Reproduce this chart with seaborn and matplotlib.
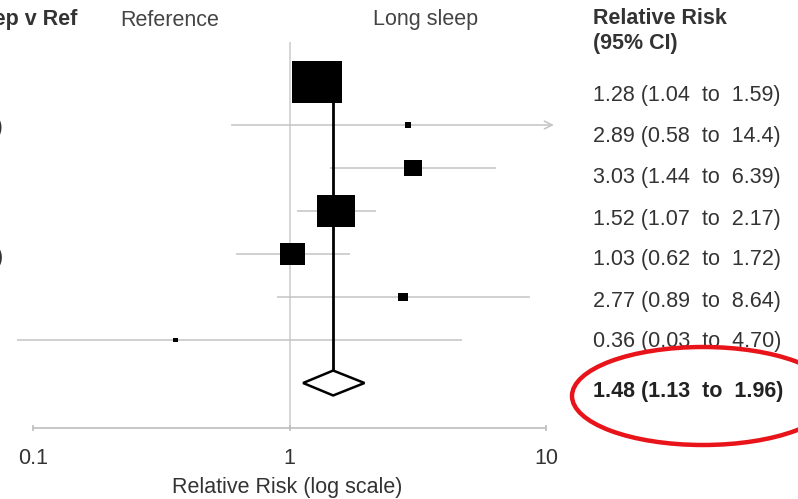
import numpy as np
import matplotlib
matplotlib.use("Agg")
import matplotlib.pyplot as plt
import seaborn as sns
import pandas as pd
from matplotlib.patches import Ellipse, Polygon
from matplotlib.path import Path

# ---- data ----
rr = [1.28, 2.89, 3.03, 1.52, 1.03, 2.77, 0.36]
lo = [1.04, 0.58, 1.44, 1.07, 0.62, 0.89, 0.03]
hi = [1.59, 14.4, 6.39, 2.17, 1.72, 8.64, 4.70]
weights = [50.3, 0.7, 6.7, 27.7, 12.3, 1.8, 0.5]
row_labels = ["", "(men)", "", "", "(women)", "", ""]
pooled = (1.48, 1.13, 1.96)
ticks = [0.1, 1, 10]
tick_labels = ["0.1", "1", "10"]

sns.set_theme(style="white")
plt.rcParams['font.family'] = ['Liberation Sans', 'DejaVu Sans']

W, H = 798, 499
fig = plt.figure(figsize=(W / 100, H / 100), dpi=100)
ax = fig.add_axes([0, 0, 1, 1])
ax.set_xscale("log")
# map: 0.1 -> px 33, 10 -> px 546
ppd = (546 - 33) / 2.0
ax.set_xlim(10 ** (-1 - 33 / ppd), 10 ** (-1 + (W - 33) / ppd))
# rows: row r at px 82 + 43 r
ax.set_ylim((H - 82) / 43, -82 / 43)
ax.axis("off")

def px(x, y):
    return x / W, 1 - y / H

n = len(rr)
rows = np.arange(n)
xmax_plot = 11.0
xmin_plot = 10 ** (-1 - 16 / ppd)
grey = "#c4c4c4"

# reference line at 1
ax.vlines(1, -0.93, (428 - 82) / 43, color="#cfcfcf", lw=1.2, zorder=1)

# CIs
for i in range(n):
    a, b = max(lo[i], xmin_plot), hi[i]
    if b > xmax_plot:
        ax.annotate("", xy=(xmax_plot, i), xytext=(a, i),
                    arrowprops=dict(arrowstyle="->", color=grey, lw=1.1,
                                    mutation_scale=14), zorder=2)
    else:
        ax.hlines(i, a, b, color=grey, lw=1.1, zorder=2)

# pooled vertical line
dh = 0.29
ax.vlines(pooled[0], 0, n - 0.5 + 0.5 - dh + 0.0, color="black", lw=2.0, zorder=3)

# boxes
box = Path([(-1.2, -1), (1.2, -1), (1.2, 1), (-1.2, 1), (-1.2, -1)],
           [Path.MOVETO, Path.LINETO, Path.LINETO, Path.LINETO, Path.CLOSEPOLY])
df = pd.DataFrame({"rr": rr, "row": rows, "w": weights})
k = 26.8
sns.scatterplot(data=df, x="rr", y="row", size="w",
                sizes=(min(weights) * k, max(weights) * k),
                marker=box, color="black", edgecolor="none", linewidth=0,
                legend=False, ax=ax, zorder=4)

# pooled diamond
diam = Polygon([(pooled[1], n), (pooled[0], n - dh), (pooled[2], n), (pooled[0], n + dh)],
               closed=True, facecolor="white", edgecolor="black", lw=1.8, zorder=5)
ax.add_patch(diam)

# x axis
yax = (428 - 82) / 43
ax.hlines(yax, ticks[0], ticks[-1], color="#bdbdbd", lw=1.2)
for t, lab in zip(ticks, tick_labels):
    ax.vlines(t, yax - 0.08, yax + 0.08, color="#bdbdbd", lw=1.2)
    ax.text(t, (458 - 82) / 43, lab, ha="center", va="center", fontsize=15.5, color="#333333")
fig.text(*px(287, 487), "Relative Risk (log scale)", ha="center", va="center",
         fontsize=15.5, color="#333333")

# headers
fig.text(*px(77, 20), "Long sleep v Ref", ha="right", va="center", fontsize=15.5,
         fontweight="bold", color="#333333")
fig.text(*px(170, 20), "Reference", ha="center", va="center", fontsize=15.5, color="#444444")
fig.text(*px(426, 20), "Long sleep", ha="center", va="center", fontsize=15.5, color="#444444")
fig.text(*px(593, 18), "Relative Risk", ha="left", va="center", fontsize=15.5,
         fontweight="bold", color="#333333")
fig.text(*px(593, 43), "(95% CI)", ha="left", va="center", fontsize=15.5,
         fontweight="bold", color="#333333")

# row labels (clipped at left edge)
for i, lab in enumerate(row_labels):
    if lab:
        fig.text(*px(3.5, 82 + 43 * i + 3), lab, ha="right", va="center",
                 fontsize=15.5, color="#333333")

# values
for i in range(n):
    s = f"{rr[i]:.2f} ({lo[i]:.2f}  to  {hi[i]:.3g})" if hi[i] >= 10 else \
        f"{rr[i]:.2f} ({lo[i]:.2f}  to  {hi[i]:.2f})"
    fig.text(*px(593, 96 + 41 * i), s, ha="left", va="center", fontsize=15.5, color="#333333")
fig.text(*px(593, 392), f"{pooled[0]:.2f} ({pooled[1]:.2f}  to  {pooled[2]:.2f})",
         ha="left", va="center", fontsize=15.5, fontweight="bold", color="#222222")

# red ellipse highlight
ell = Ellipse(px(703, 396), 262 / W, 98 / H, transform=fig.transFigure,
              fill=False, edgecolor="#e8141a", lw=3.2, zorder=10)
fig.patches.append(ell)

fig.savefig("out.png", dpi=100, facecolor="white")
